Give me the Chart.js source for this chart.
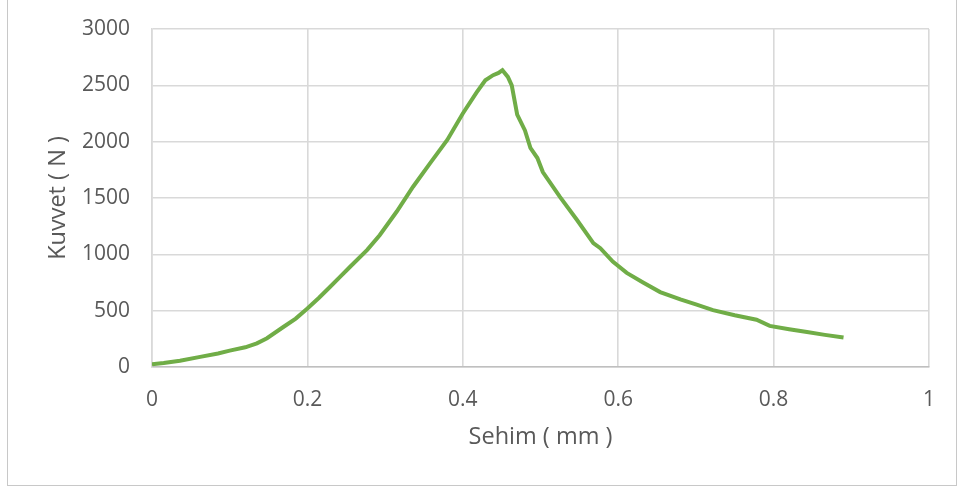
<!DOCTYPE html>
<html>
<head>
<meta charset="utf-8">
<script src="https://cdn.jsdelivr.net/npm/chart.js"></script>
<style>
  html, body { margin: 0; padding: 0; background: #fff; }
  #wrap { position: relative; width: 958px; height: 488px; }
</style>
</head>
<body>
<div id="wrap"><canvas id="chart" width="958" height="488"></canvas></div>
<script>
// Sehim (mm) - okunan değerler
const sehim = [
  0.000, 0.015, 0.036, 0.062, 0.085, 0.100, 0.120, 0.135, 0.148, 0.169,
  0.185, 0.200, 0.215, 0.229, 0.242, 0.255, 0.277, 0.293, 0.315, 0.336,
  0.358, 0.380, 0.400, 0.418, 0.429, 0.439, 0.446, 0.451, 0.458, 0.463,
  0.470, 0.480, 0.487, 0.496, 0.503, 0.525, 0.547, 0.568, 0.577, 0.593,
  0.611, 0.632, 0.654, 0.680, 0.700, 0.722, 0.750, 0.778, 0.795, 0.820,
  0.843, 0.866, 0.890
];
// Kuvvet (N)
const kuvvet = [
  25, 35, 55, 90, 120, 145, 175, 210, 255, 355,
  430, 520, 615, 710, 800, 890, 1040, 1170, 1380, 1600,
  1810, 2015, 2250, 2440, 2545, 2590, 2610, 2635, 2575, 2500,
  2240, 2100, 1945, 1855, 1730, 1510, 1305, 1100, 1055, 935,
  835, 750, 665, 600, 555, 505, 460, 420, 365, 335,
  310, 285, 262
];
const xTicks = [0, 0.2, 0.4, 0.6, 0.8, 1];
const yTicks = [0, 500, 1000, 1500, 2000, 2500, 3000];

const points = sehim.map((x, i) => ({ x: x, y: kuvvet[i] }));

const txt = '#595959';
const tickFont = { family: '"Open Sans", sans-serif', size: 21 };
const titleFont = { family: '"Open Sans", sans-serif', size: 23.5 };

// dış çerçeve
const frame = {
  id: 'frame',
  beforeDraw(chart) {
    const c = chart.ctx;
    c.save();
    c.fillStyle = '#fff';
    c.fillRect(0, 0, chart.width, chart.height);
    c.strokeStyle = '#c8c8c8';
    c.lineWidth = 1;
    c.strokeRect(7.5, -10, 949, 495.5);
    c.restore();
  }
};

new Chart(document.getElementById('chart'), {
  type: 'line',
  data: {
    datasets: [{
      data: points,
      borderColor: '#70ad47',
      borderWidth: 4,
      pointRadius: 0,
      tension: 0,
      fill: false
    }]
  },
  options: {
    responsive: false,
    animation: false,
    layout: { padding: { top: 29, right: 29, left: 0, bottom: 0 } },
    plugins: { legend: { display: false }, tooltip: { enabled: false } },
    scales: {
      x: {
        type: 'linear',
        min: 0, max: 1,
        afterBuildTicks: s => { s.ticks = xTicks.map(v => ({ value: v })); },
        afterFit: s => { s.height = 121; s.paddingLeft = 0; s.paddingRight = 0; },
        ticks: { color: txt, font: tickFont, padding: 20, maxRotation: 0,
                 callback: v => String(Math.round(v * 10) / 10) },
        grid: { color: '#d9d9d9', lineWidth: 1.6, drawTicks: false },
        border: { color: '#bfbfbf', width: 1.6 },
        title: { display: true, text: 'Sehim ( mm )', color: txt, font: titleFont,
                 padding: { top: 0, bottom: 37 } }
      },
      y: {
        min: 0, max: 3000,
        afterBuildTicks: s => { s.ticks = yTicks.map(v => ({ value: v })); },
        afterFit: s => { s.width = 152; s.paddingTop = 0; s.paddingBottom = 0; },
        ticks: { color: txt, font: tickFont, padding: 22,
                 callback: v => String(v) },
        grid: { color: '#d9d9d9', lineWidth: 1.6, drawTicks: false },
        border: { color: '#d9d9d9', width: 1.6 },
        title: { display: true, text: 'Kuvvet ( N )', color: txt, font: titleFont,
                 padding: { top: 44, bottom: 0 } }
      }
    }
  },
  plugins: [frame]
});
</script>
</body>
</html>
